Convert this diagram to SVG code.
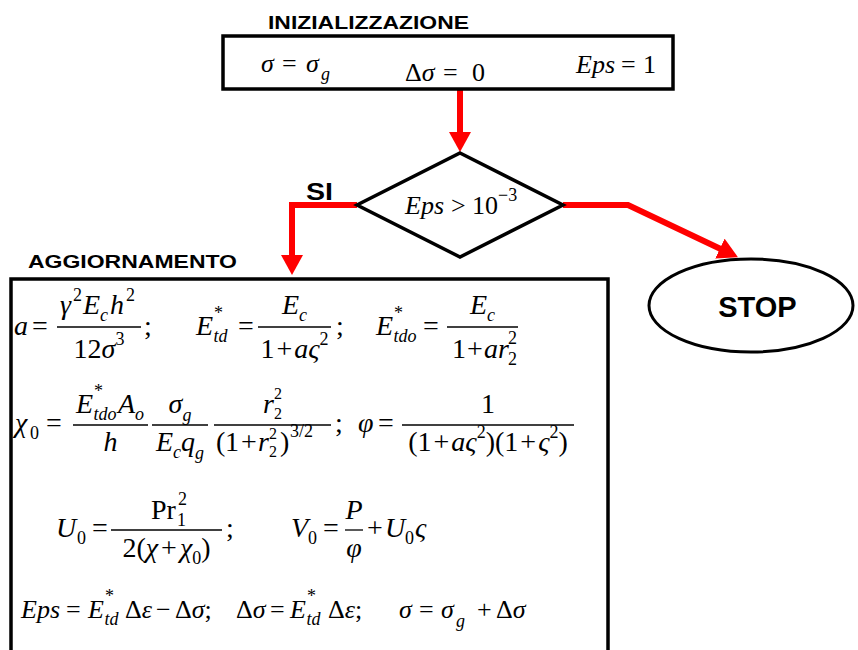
<svg xmlns="http://www.w3.org/2000/svg" width="858" height="650" viewBox="0 0 858 650">
<defs>
<marker id="ah" markerUnits="userSpaceOnUse" markerWidth="20" markerHeight="22" refX="5" refY="11" orient="auto" viewBox="0 0 20 22"><path d="M0,0 L20,11 L0,22 z" fill="#ff0000"/></marker>
<style>
.box{fill:#fff;stroke:#000;stroke-width:3.5}
.conn{fill:none;stroke:#ff0000;stroke-width:6;stroke-linejoin:miter}
.lbl{font-family:"Liberation Sans",Arial,sans-serif;font-weight:bold;fill:#000}
.m{font-family:"Liberation Serif","Times New Roman",serif;font-size:28px;fill:#000}
.t{font-size:26px}
.r4{font-size:26px}
.i{font-style:italic}
.n{font-style:normal}
.s{font-size:18px}
.ss{font-size:16px}
.bar{stroke:#000;stroke-width:1.3}
</style>
</defs>
<rect width="858" height="650" fill="#fff"/>

<g id="connectors">
<path class="conn" d="M460,89 V137" marker-end="url(#ah)"/>
<path class="conn" d="M357,205 H292 V260" marker-end="url(#ah)"/>
<path class="conn" d="M563,205 H628 L724.4,250.7" marker-end="url(#ah)"/>
</g>

<g id="init">
<text class="lbl" x="268" y="29" font-size="19" textLength="201" lengthAdjust="spacingAndGlyphs">INIZIALIZZAZIONE</text>
<rect class="box" x="223" y="36" width="450" height="53"/>
<text class="m t" y="72"><tspan x="261" class="i">σ</tspan><tspan x="282">=</tspan><tspan x="306" class="i">σ</tspan><tspan x="321" dy="8" class="s i">g</tspan></text>
<text class="m t" y="81"><tspan x="405">Δ</tspan><tspan class="i">σ</tspan><tspan x="443">=</tspan><tspan x="472">0</tspan></text>
<text class="m t" y="73"><tspan x="576" class="i">Eps</tspan><tspan x="621">=</tspan><tspan x="643">1</tspan></text>
</g>

<g id="decision">
<polygon class="box" stroke-width="3" points="460,153 563,205 460,257 357,205"/>
<text class="m t" y="214"><tspan x="405" class="i">Eps</tspan><tspan x="451">&gt;</tspan><tspan x="472">10</tspan><tspan class="s" dy="-13">−3</tspan></text>
</g>

<text id="si" class="lbl" x="306" y="200" font-size="24" textLength="27" lengthAdjust="spacingAndGlyphs">SI</text>

<g id="stop">
<ellipse cx="751" cy="305.5" rx="102" ry="46.5" fill="#fff" stroke="#000" stroke-width="3"/>
<text class="lbl" x="757.5" y="317" font-size="29" text-anchor="middle">STOP</text>
</g>

<g id="update">
<text class="lbl" x="28" y="268" font-size="18.5" textLength="209" lengthAdjust="spacingAndGlyphs">AGGIORNAMENTO</text>
<rect class="box" stroke-width="4" x="11" y="279" width="597" height="420"/>

<!-- row 1 -->
<text class="m i" x="14" y="335">a</text>
<text class="m" x="32" y="335">=</text>
<line class="bar" x1="57" y1="327" x2="141" y2="327"/>
<text class="m" y="314"><tspan x="60" class="i">γ</tspan><tspan x="73" dy="-13" class="s">2</tspan><tspan x="83" dy="13" class="i">E</tspan><tspan x="100" dy="7" class="s i">c</tspan><tspan x="110" dy="-7" class="i">h</tspan><tspan x="126" dy="-13" class="s">2</tspan></text>
<text class="m" x="99" y="358" text-anchor="middle">12<tspan class="i">σ</tspan><tspan class="s" dy="-13">3</tspan></text>
<text class="m" x="144" y="335">;</text>

<text class="m i" y="335"><tspan x="196">E</tspan><tspan x="214" dy="-16" class="s n">*</tspan><tspan x="213.5" dy="23" class="s">td</tspan></text>
<text class="m" x="238" y="335">=</text>
<line class="bar" x1="258" y1="327" x2="331" y2="327"/>
<text class="m" x="294.5" y="314" text-anchor="middle"><tspan class="i">E</tspan><tspan class="s i" dy="7">c</tspan></text>
<text class="m" x="294.5" y="358" text-anchor="middle">1<tspan dx="2">+</tspan><tspan dx="2" class="i">aς</tspan><tspan class="s" dy="-13">2</tspan></text>
<text class="m" x="336" y="335">;</text>

<text class="m i" y="335"><tspan x="376">E</tspan><tspan x="394" dy="-16" class="s n">*</tspan><tspan x="393.5" dy="23" class="s">tdo</tspan></text>
<text class="m" x="423" y="335">=</text>
<line class="bar" x1="447" y1="327" x2="518" y2="327"/>
<text class="m" x="482.5" y="314" text-anchor="middle"><tspan class="i">E</tspan><tspan class="s i" dy="7">c</tspan></text>
<text class="m" y="358"><tspan x="452">1</tspan><tspan x="467">+</tspan><tspan x="484" class="i">ar</tspan><tspan x="508" dy="7" class="s">2</tspan><tspan x="508" dy="-21" class="s">2</tspan></text>

<!-- row 2 -->
<text class="m" y="432"><tspan x="15" class="i">χ</tspan><tspan x="30" dy="7" class="s">0</tspan></text>
<text class="m" x="46" y="432">=</text>
<line class="bar" x1="73" y1="425" x2="148" y2="425"/>
<text class="m i" y="413"><tspan x="76">E</tspan><tspan x="94" dy="-16" class="s n">*</tspan><tspan x="93.5" dy="23" class="s">tdo</tspan><tspan x="118" dy="-7">A</tspan><tspan x="135" dy="7" class="s">o</tspan></text>
<text class="m i" x="110.5" y="451" text-anchor="middle">h</text>
<line class="bar" x1="152" y1="425" x2="208" y2="425"/>
<text class="m i" x="180" y="413" text-anchor="middle">σ<tspan class="s" dy="8">g</tspan></text>
<text class="m i" x="180" y="451" text-anchor="middle">E<tspan class="s" dy="7">c</tspan><tspan dy="-7">q</tspan><tspan class="s" dy="8">g</tspan></text>
<line class="bar" x1="214" y1="425" x2="331" y2="425"/>
<text class="m" y="413"><tspan x="263" class="i">r</tspan><tspan x="274" dy="6" class="ss">2</tspan><tspan x="274" dy="-20" class="ss">2</tspan></text>
<text class="m" y="451"><tspan x="216">(</tspan><tspan x="225">1</tspan><tspan x="241">+</tspan><tspan x="258" class="i">r</tspan><tspan x="269" dy="6" class="ss">2</tspan><tspan x="269" dy="-18" class="ss">2</tspan><tspan x="280" dy="12">)</tspan><tspan x="290" dy="-14" class="s">3/2</tspan></text>
<text class="m" x="335" y="432">;</text>
<text class="m i" x="358" y="432">φ</text>
<text class="m" x="378" y="432">=</text>
<line class="bar" x1="402" y1="425" x2="574" y2="425"/>
<text class="m" x="488" y="413" text-anchor="middle">1</text>
<text class="m" x="488" y="451" text-anchor="middle">(1<tspan dx="2">+</tspan><tspan dx="2" class="i">aς</tspan><tspan class="s" dy="-13">2</tspan><tspan dy="13">)(1</tspan><tspan dx="2">+</tspan><tspan dx="2" class="i">ς</tspan><tspan class="s" dy="-13">2</tspan><tspan dy="13">)</tspan></text>

<!-- row 3 -->
<text class="m" y="537"><tspan x="56" class="i">U</tspan><tspan x="77" dy="7" class="s">0</tspan></text>
<text class="m" x="92" y="537">=</text>
<line class="bar" x1="111" y1="530" x2="222" y2="530"/>
<text class="m" y="519"><tspan x="151">Pr</tspan><tspan x="177" dy="7" class="s">1</tspan><tspan x="178" dy="-21" class="s">2</tspan></text>
<text class="m" x="166.5" y="557" text-anchor="middle">2(<tspan class="i">χ</tspan><tspan dx="3">+</tspan><tspan dx="3" class="i">χ</tspan><tspan class="s" dy="7">0</tspan><tspan dy="-7">)</tspan></text>
<text class="m" x="226" y="537">;</text>
<text class="m" y="537"><tspan x="291" class="i">V</tspan><tspan x="308" dy="7" class="s">0</tspan></text>
<text class="m" x="323" y="537">=</text>
<line class="bar" x1="345" y1="530" x2="363" y2="530"/>
<text class="m i" x="354" y="519" text-anchor="middle">P</text>
<text class="m i" x="354" y="557" text-anchor="middle">φ</text>
<text class="m" y="537"><tspan x="367">+</tspan><tspan x="385" class="i">U</tspan><tspan x="405" dy="7" class="s">0</tspan><tspan x="415" dy="-7" class="i">ς</tspan></text>

<!-- row 4 -->
<text class="m r4" y="618"><tspan x="21" class="i">Eps</tspan><tspan x="66">=</tspan><tspan x="88" class="i">E</tspan><tspan x="105" dy="-16" class="s">*</tspan><tspan x="104.5" dy="23" class="s i">td</tspan><tspan x="125" dy="-7">Δ</tspan><tspan class="i">ε</tspan><tspan x="156">−</tspan><tspan x="175">Δ</tspan><tspan class="i">σ</tspan><tspan>;</tspan><tspan x="236">Δ</tspan><tspan class="i">σ</tspan><tspan x="270">=</tspan><tspan x="290" class="i">E</tspan><tspan x="307" dy="-16" class="s">*</tspan><tspan x="306.5" dy="23" class="s i">td</tspan><tspan x="328" dy="-7">Δ</tspan><tspan class="i">ε</tspan><tspan>;</tspan><tspan x="399" class="i">σ</tspan><tspan x="419">=</tspan><tspan x="441" class="i">σ</tspan><tspan x="456" dy="9" class="s i">g</tspan><tspan x="477" dy="-9">+</tspan><tspan x="496">Δ</tspan><tspan class="i">σ</tspan></text>
</g>
</svg>
